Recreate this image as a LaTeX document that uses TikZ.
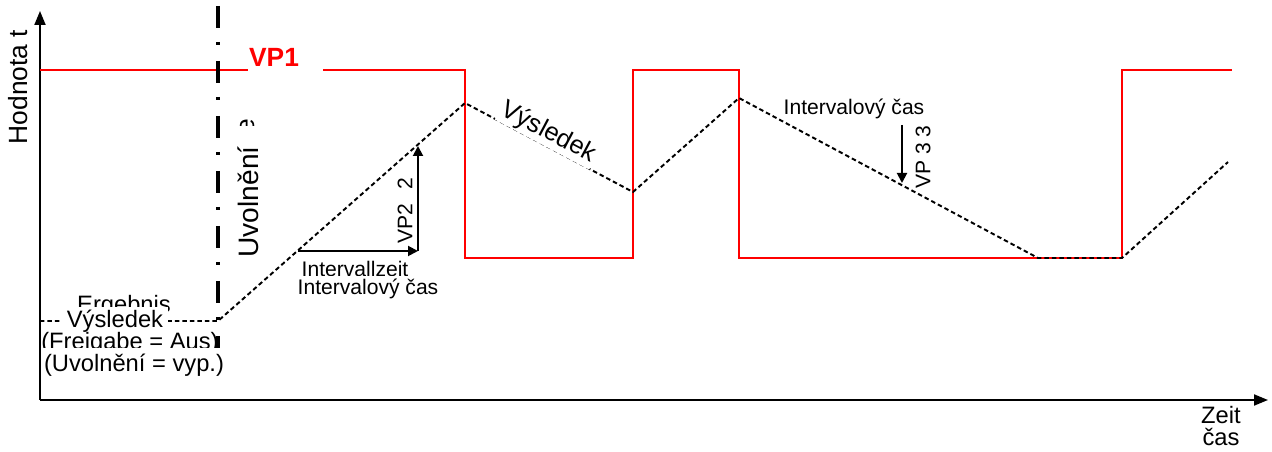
\documentclass[tikz,border=0pt]{standalone}
\usepackage{fontspec}
\setmainfont{Liberation Sans}
\usetikzlibrary{arrows.meta}

\begin{document}
\begin{tikzpicture}[x=0.02cm, y=-0.02cm,
		ax/.style={line width=1.1pt, -{Triangle[length=0.28cm, width=0.22cm]}},
		ar/.style={line width=1.1pt, -{Triangle[length=0.2cm, width=0.2cm]}},
		vp/.style={red, line width=1.4pt},
		res/.style={line width=1.1pt, dash pattern=on 0.09cm off 0.06cm},
		rel/.style={line width=2.8pt, dash pattern=on 0.44cm off 0.28cm on 0.06cm off 0.32cm},
		t/.style={inner sep=1pt, font=\fontsize{12}{14}\selectfont},
		m/.style={inner sep=1pt, font=\fontsize{13.5}{15}\selectfont},
		w/.style={fill=white}]
		\useasboundingbox (0,0) rectangle (1272,452);

		% axes
		\coordinate (O) at (40,400);
		\coordinate (Yt) at (40,11);
		\coordinate (Xt) at (1268,400);
		\draw[ax] (O) -- (Yt);
		\draw[ax] (O) -- (Xt);
		\node[rotate=90, inner sep=0pt, font=\fontsize{15}{17}\selectfont] (H) at (18,87) {Hodnota t};
		\node[m, anchor=base] (Z) at (1221,424) {Zeit};
		\node[m, anchor=base] (C) at (1221,446) {čas};

		% VP1
		\coordinate (r0) at (40,70);
		\coordinate (r1) at (248,70);
		\coordinate (r2) at (323,70);
		\coordinate (r3) at (465,70);
		\coordinate (r4) at (465,258);
		\coordinate (r5) at (633,258);
		\coordinate (r6) at (633,70);
		\coordinate (r7) at (739,70);
		\coordinate (r8) at (739,258);
		\coordinate (r9) at (1122,258);
		\coordinate (r10) at (1122,70);
		\coordinate (r11) at (1232,70);
		\draw[vp] (r0) -- (r1);
		\draw[vp] (r2) -- (r3) -- (r4) -- (r5) -- (r6) -- (r7) -- (r8) -- (r9) -- (r10) -- (r11);
		\node[anchor=base, red, inner sep=0pt, font=\bfseries\fontsize{15}{17}\selectfont] (VP1) at (274,67) {VP1};

		% result
		\coordinate (e0) at (40,321);
		\coordinate (e1) at (218,321);
		\coordinate (e2) at (465,103);
		\coordinate (e3) at (633,192);
		\coordinate (e4) at (739,98);
		\coordinate (e5) at (1038,258);
		\coordinate (e6) at (1122,258);
		\coordinate (e7) at (1228,162);
		\draw[res] (e0) -- (e1) -- (e2) -- (e3) -- (e4) -- (e5) -- (e6) -- (e7);
		\path (e2) -- (e3) node[w, sloped, pos=.46, above=-0.6pt, inner sep=1pt, font=\fontsize{14.5}{16}\selectfont] (Vs) {Výsledek};

		% release
		\coordinate (u0) at (218,6);
		\coordinate (u1) at (218,348);
		\draw[rel] (u0) -- (u1);
		\node[rotate=90, inner sep=0pt, font=\fontsize{16}{18}\selectfont] (U) at (248,202) {Uvolnění};
		\begin{scope}
			\clip (234,112) rectangle (262,126);
			\node[rotate=90, inner sep=0pt, font=\fontsize{15}{17}\selectfont] (Ue) at (248,126) {e};
		\end{scope}

		% VP2
		\coordinate (a0) at (298,251);
		\coordinate (a1) at (418,251);
		\coordinate (a2) at (418,146);
		\draw[ar] (a0) -- (a1);
		\draw[ar] (a1) -- (a2);
		\node[t, rotate=90, inner sep=0pt] (VP2) at (405,224) {VP2};
		\node[t, rotate=90, inner sep=0pt] (VP2i) at (405,184) {2};
		\node[t, anchor=base] (Iz) at (355,277) {Intervallzeit};
		\node[t, w, anchor=base, inner ysep=2pt] (I2) at (368,295) {Intervalový čas};

		% VP3
		\coordinate (b0) at (902,125);
		\coordinate (b1) at (902,183);
		\draw[ar] (b0) -- (b1);
		\node[t, rotate=90, inner sep=0pt] (VP3) at (923,157) {VP 3 3};
		\node[t, anchor=base] (I3) at (854,115) {Intervalový čas};

		% start value
		\node[m, anchor=base] (E) at (124,313) {Ergebnis};
		\node[m, w, anchor=base, inner xsep=3pt, inner ysep=2pt] (V) at (115,328) {Výsledek};
		\node[m, anchor=base] (F) at (130,350) {(Freigabe = Aus)};
		\node[m, w, anchor=base, inner ysep=4pt] (Uv) at (134,372) {(Uvolnění = vyp.)};
	\end{tikzpicture}
\end{document}
